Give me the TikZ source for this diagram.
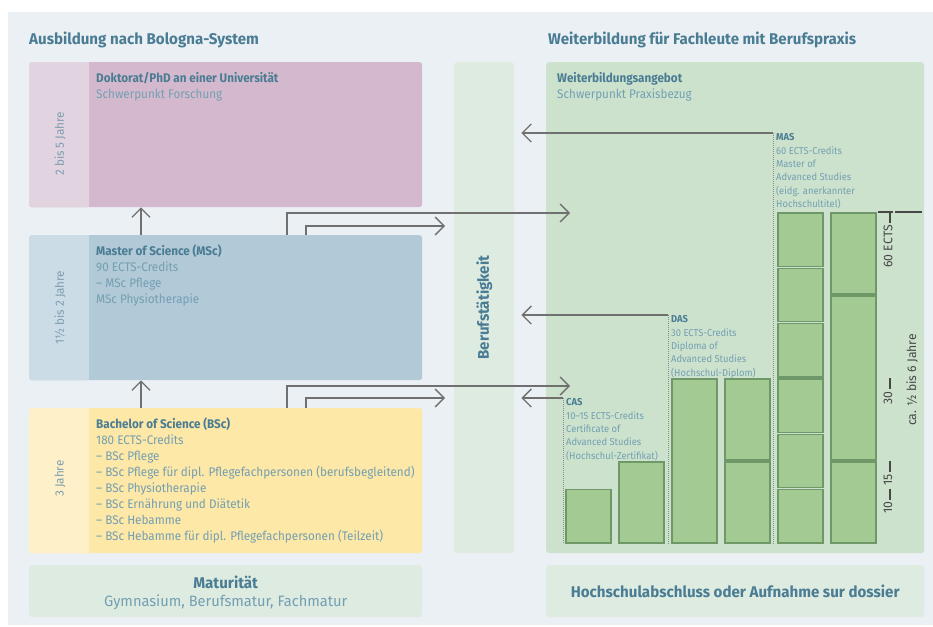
\documentclass[tikz,border=0pt]{standalone}
\usepackage{fontspec}
\setmainfont{Fira Sans}[FakeStretch=0.975]
\newfontfamily\bodyfont{Fira Sans}[FakeStretch=0.935]
\usetikzlibrary{arrows.meta,positioning}
\definecolor{bgc}{HTML}{EBF0F4}
\definecolor{dokc}{HTML}{D4B9CE}
\definecolor{dokside}{HTML}{E2D3E0}
\definecolor{mscc}{HTML}{B2C9D7}
\definecolor{mscside}{HTML}{CCDCE6}
\definecolor{bscc}{HTML}{FDE8A7}
\definecolor{bscside}{HTML}{FEF0C8}
\definecolor{paleg}{HTML}{DDEBE1}
\definecolor{weiterc}{HTML}{CCE2CD}
\definecolor{barfill}{HTML}{A4CA94}
\definecolor{barline}{HTML}{6E9868}
\definecolor{arrc}{HTML}{707070}
\definecolor{dotc}{HTML}{8C8C8C}
\definecolor{titlec}{HTML}{4A7C93}
\definecolor{bodyc}{HTML}{739FB2}
\definecolor{sidec}{HTML}{7D9DB0}
\definecolor{tickc}{HTML}{474747}

\begin{document}
\begin{tikzpicture}[x=1pt,y=-1pt]

\tikzstyle{box} = [rectangle, rounded corners=3pt, anchor=north west, inner sep=0pt]
\tikzstyle{txt} = [align=left, inner sep=0pt, text=bodyc, font=\bodyfont\fontsize{12.5}{16}\selectfont]
\tikzstyle{smalltxt} = [align=left, inner sep=0pt, text=bodyc, font=\bodyfont\fontsize{10}{13.3}\selectfont]
\tikzstyle{sidelabel} = [rotate=90, inner sep=0pt, text=sidec, font=\fontsize{12}{14}\selectfont]
\tikzstyle{headline} = [anchor=base west, inner sep=0pt, text=titlec, font=\fontsize{15.5}{18}\selectfont\bfseries]
\tikzstyle{arr} = [draw=arrc, line width=1.3pt, -{Straight Barb[length=9pt,width=18pt]}]
\tikzstyle{dotline} = [draw=dotc, line width=1pt, dash pattern=on 1pt off 1pt]
\tikzstyle{ectsbar} = [fill=barfill, draw=barline, line width=1.2pt]
\tikzstyle{ectstick} = [draw=tickc, line width=1.8pt]
\tikzstyle{ectslabel} = [rotate=90, inner sep=0pt, text=tickc, font=\fontsize{12.5}{14}\selectfont]

\useasboundingbox (0,0) rectangle (933,626);
\fill[bgc] (8,12) rectangle (933,625);

\node (hleft) [headline] at (29,44.5) {Ausbildung nach Bologna-System};
\node (hright) [headline] at (548,44.5) {Weiterbildung für Fachleute mit Berufspraxis};

\node (dok) [box, fill=dokc, minimum width=393pt, minimum height=145pt] at (29,62) {};
\fill[dokside, rounded corners=3pt] (dok.north west) rectangle ([xshift=60pt]dok.south west);
\fill[dokside] ([xshift=50pt]dok.north west) rectangle ([xshift=60pt]dok.south west);
\node (msc) [box, fill=mscc, minimum width=393pt, minimum height=145pt] at (29,235) {};
\fill[mscside, rounded corners=3pt] (msc.north west) rectangle ([xshift=60pt]msc.south west);
\fill[mscside] ([xshift=50pt]msc.north west) rectangle ([xshift=60pt]msc.south west);
\node (bsc) [box, fill=bscc, minimum width=393pt, minimum height=145pt] at (29,408) {};
\fill[bscside, rounded corners=3pt] (bsc.north west) rectangle ([xshift=60pt]bsc.south west);
\fill[bscside] ([xshift=50pt]bsc.north west) rectangle ([xshift=60pt]bsc.south west);
\node (mat) [box, fill=paleg, minimum width=393pt, minimum height=52pt] at (29,565) {};
\node (beruf) [box, fill=paleg, minimum width=60pt, minimum height=491pt] at (454,62) {};
\node (weiter) [box, fill=weiterc, minimum width=378pt, minimum height=491pt] at (546,62) {};
\node (hsa) [box, fill=paleg, minimum width=378pt, minimum height=52pt] at (546,565) {};

\node (doktime) [sidelabel] at ([xshift=31pt,yshift=-9pt]dok.west) {2 bis 5 Jahre};
\node (msctime) [sidelabel] at ([xshift=31pt]msc.west) {1½ bis 2 Jahre};
\node (bsctime) [sidelabel] at ([xshift=31pt,yshift=2pt]bsc.west) {3 Jahre};

\node (doktxt) [txt, below right=10pt and 67pt of dok.north west]
  {\textcolor{titlec}{\bfseries Doktorat/PhD an einer Universität}\\Schwerpunkt Forschung};
\node (msctxt) [txt, below right=10pt and 67pt of msc.north west]
  {\textcolor{titlec}{\bfseries Master of Science (MSc)}\\90 ECTS-Credits\\– MSc Pflege\\MSc Physiotherapie};
\node (bsctxt) [txt, below right=10pt and 67pt of bsc.north west]
  {\textcolor{titlec}{\bfseries Bachelor of Science (BSc)}\\180 ECTS-Credits\\– BSc Pflege\\– BSc Pflege für dipl. Pflegefachpersonen (berufsbegleitend)\\– BSc Physiotherapie\\– BSc Ernährung und Diätetik\\– BSc Hebamme\\– BSc Hebamme für dipl. Pflegefachpersonen (Teilzeit)};
\node (mattxt) [align=center, inner sep=0pt, text=bodyc, font=\fontsize{15}{18}\selectfont, below=11pt of mat.north]
  {\textcolor{titlec}{\fontsize{15.5}{18}\selectfont\bfseries Maturität}\\Gymnasium, Berufsmatur, Fachmatur};
\node (berufl) [rotate=90, inner sep=0pt, text=titlec, font=\fontsize{15.5}{18}\selectfont\bfseries] at (beruf.center) {Berufstätigkeit};
\node (weitertxt) [txt, below right=10pt and 11pt of weiter.north west]
  {\textcolor{titlec}{\bfseries Weiterbildungsangebot}\\Schwerpunkt Praxisbezug};
\node (hsatxt) [inner sep=0pt, text=titlec, font=\fontsize{15.5}{18}\selectfont\bfseries] at (hsa.center) {Hochschulabschluss oder Aufnahme sur dossier};

\coordinate (masl) at (773,133);
\coordinate (dasl) at (668,315);
\coordinate (casl) at (563,398);
\coordinate (berufR) at ([xshift=7pt]beruf.east);
\coordinate (wtop) at (570,213);
\coordinate (btop) at (445,226);
\coordinate (wlow) at (570,386);
\coordinate (blow) at (445,398);

\node (mastxt) [smalltxt, below right=0.5pt and 3pt of masl]
  {\textcolor{titlec}{\bfseries MAS}\\60 ECTS-Credits\\Master of\\Advanced Studies\\(eidg. anerkannter\\Hochschultitel)};
\node (dastxt) [smalltxt, below right=0.5pt and 3pt of dasl]
  {\textcolor{titlec}{\bfseries DAS}\\30 ECTS-Credits\\Diploma of\\Advanced Studies\\(Hochschul-Diplom)};
\node (castxt) [smalltxt, below right=0.5pt and 3pt of casl]
  {\textcolor{titlec}{\bfseries CAS}\\10–15 ECTS-Credits\\Certificate of\\Advanced Studies\\(Hochschul-Zertifikat)};

\draw[arr] (msc.north -| 141,0) -- (dok.south -| 141,0);
\draw[arr] (bsc.north -| 141,0) -- (msc.south -| 141,0);
\draw[arr] (msc.north -| 287,0) |- (wtop);
\draw[arr] (msc.north -| 306,0) |- (btop);
\draw[arr] (bsc.north -| 287,0) |- (wlow);
\draw[arr] (bsc.north -| 306,0) |- (blow);
\draw[arr] (masl) -- (berufR |- masl);
\draw[arr] (dasl) -- (berufR |- dasl);
\draw[arr] (casl) -- (berufR |- casl);
\draw[dotline] (masl) -- (masl |- 0,544);
\draw[dotline] (dasl) -- (dasl |- 0,544);
\draw[dotline] (casl) -- (casl |- 0,544);

\foreach \xa/\ea/\eb in {566/0/10, 619/0/15, 672/0/30, 725/0/15, 725/15/30,
  778/0/10, 778/10/20, 778/20/30, 778/30/40, 778/40/50, 778/50/60,
  831/0/15, 831/15/45, 831/45/60}
  \draw[ectsbar] (\xa,544-5.533*\ea-1) rectangle (\xa+45,544-5.533*\eb+1);

\foreach \e/\lab in {10/10, 15/15, 30/30, 60/60 ECTS} {
  \draw[ectstick] (890,544-5.533*\e) -- (890,544-5.533*\e+11);
  \node[ectslabel, anchor=east] at (888,544-5.533*\e+13) {\lab};
}
\draw[tickc, line width=1.3pt] (878,212) -- (893,212);
\draw[tickc, line width=1.3pt] (895,212) -- (922,212);
\node (dauer) [ectslabel] at (912,380) {ca. ½ bis 6 Jahre};

\end{tikzpicture}
\end{document}
